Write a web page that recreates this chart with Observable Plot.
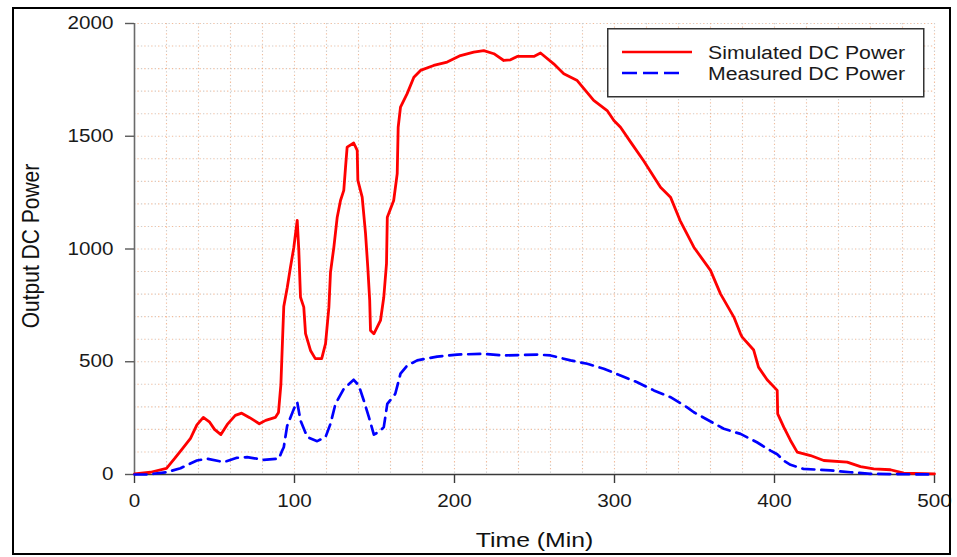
<!DOCTYPE html>
<html>
<head>
<meta charset="utf-8">
<script src="https://cdn.jsdelivr.net/npm/d3@7"></script>
<script src="https://cdn.jsdelivr.net/npm/@observablehq/plot@0.6"></script>
<style>
  html, body { margin: 0; padding: 0; background: #fff; }
  #wrap { position: relative; width: 957px; height: 557px; overflow: hidden; font-family: "Liberation Sans", Arial, sans-serif; }
  #wrap > svg.chart { position: absolute; left: 0; top: 0; }
  #border { position: absolute; left: 12px; top: 7px; width: 935px; height: 544px; border: 2px solid #000; pointer-events: none; }
  #legend { position: absolute; left: 607px; top: 28px; }
</style>
</head>
<body>
<div id="wrap"></div>
<script>
// ---- data ----
const seriesNames = ["Simulated DC Power", "Measured DC Power"];
const axisTitles = ["Time (Min)", "Output DC Power"];
const xTicks = [0, 100, 200, 300, 400, 500];
const yTicks = [0, 500, 1000, 1500, 2000];

const simTime = [0, 10, 20, 25, 30, 35, 39, 43, 47, 50, 54, 58, 63, 67, 72, 78, 82, 88, 90, 91.5, 92.5, 93.3, 95.5, 97.5, 99.6, 100.5, 101.7,
  102.7, 103.75, 105.8, 106.9, 110, 113, 117, 119.4, 121.5, 122.5, 124.6, 126.7, 128.75, 130.8, 131.9, 132.9, 137, 139.2, 139.6, 142.3,
  144.4, 145.8, 147, 147.5, 149.6, 153.75, 155.8, 157.5, 158, 162, 164.2, 164.8, 166.25, 170.4, 174.6, 178.75, 187, 195.4, 203.75, 212,
  218.3, 224.6, 230.8, 235, 239.2, 249.6, 253.75, 262, 268.3, 276.7, 287, 295.4, 299.6, 303.75, 310, 318.3, 328.75, 335, 341, 349.6,
  360, 366.25, 374.6, 378.75, 379.8, 387, 390, 395.4, 401.7, 402, 405.8, 410, 414.2, 422.5, 430.8, 445.4, 453.75, 462, 472.5, 480.8, 500];
const simPower = [3, 10, 27, 70, 115, 160, 220, 253, 232, 200, 177, 222, 262, 272, 252, 225, 240, 253, 275, 400, 594, 745, 830, 920, 1008, 1060, 1127,
  993, 786, 742, 625, 550, 514, 514, 580, 742, 897, 1008, 1141, 1215, 1260, 1363, 1452, 1470, 1437, 1304, 1230,
  1068, 920, 772, 639, 624, 683, 786, 935, 1141, 1215, 1334, 1540, 1629, 1689, 1762, 1792, 1814, 1829, 1858, 1873,
  1880, 1866, 1836, 1839, 1854, 1854, 1869, 1821, 1777, 1747, 1659, 1614, 1570, 1540, 1475, 1390, 1274, 1230, 1126, 1008,
  905, 801, 698, 624, 609, 552, 476, 420, 373, 269, 210, 151, 99, 84, 62, 55, 35, 25, 21, 6, 3];

const measTime = [0, 8, 20, 28.75, 39, 45.4, 55.8, 64, 70.4, 80.8, 90.2, 92.3, 93.3, 95.4, 99.6, 101.7, 103.75, 108, 114.2, 119.4, 122.5,
  125.6, 130.8, 137, 140.2, 143.3, 146.5, 149.6, 153, 155.8, 158, 163, 166.25, 170.4, 176.7, 189.2, 201.7, 218.3, 230.8, 251.7, 260,
  272.5, 283, 293.3, 303.75, 314.2, 324.6, 335, 345.4, 349.6, 368.3, 378.75, 389, 397.5, 401.7, 406, 410, 418, 435, 447.5, 460, 500];
const measPower = [0, 0, 10, 28, 62, 70, 55, 74, 77, 65, 70, 106, 121, 215, 291, 321, 239, 166, 148, 166, 225,
  313, 380, 420, 395, 328, 254, 177, 190, 210, 313, 358, 447, 483, 506, 523, 532, 535, 528, 532, 528,
  506, 491, 469, 439, 409, 373, 343, 298, 276, 203, 180, 143, 106, 90, 60, 43, 25, 18, 10, 3, 0];

// ---- build tables ----
const sim = simTime.map((t, i) => ({t, p: simPower[i]}));
const meas = measTime.map((t, i) => ({t, p: measPower[i]}));
const gridX = d3.range(20, 501, 20);
const gridY = d3.range(100, 2001, 100);

const dots = {strokeWidth: 1.1, strokeDasharray: "1.3,5.6"};

const chart = Plot.plot({
  width: 957,
  height: 557,
  marginLeft: 134,
  marginRight: 23,
  marginTop: 23,
  marginBottom: 83,
  style: {fontFamily: "'Liberation Sans', Arial, sans-serif", fontSize: "17.5px", color: "#1a1a1a", background: "transparent", overflow: "visible"},
  x: {domain: [0, 500]},
  y: {domain: [0, 2000]},
  marks: [
    Plot.ruleX(gridX, {...dots, stroke: "#c8c8c8", strokeOpacity: 0.9}),
    Plot.ruleX(gridX, {...dots, stroke: "#f0a578", strokeOpacity: 0.75, strokeDashoffset: -3.4}),
    Plot.ruleY(gridY, {...dots, stroke: "#c8c8c8", strokeOpacity: 0.9}),
    Plot.ruleY(gridY, {...dots, stroke: "#f0a578", strokeOpacity: 0.75, strokeDashoffset: -3.4}),
    Plot.ruleX([0], {stroke: "#6a6a6a", strokeWidth: 1.6}),
    Plot.ruleY([0], {stroke: "#3a3a3a", strokeWidth: 1.6}),
    Plot.axisX({ticks: xTicks, tickFormat: d3.format("d"), tickSize: 9, tickPadding: 11, label: null, stroke: "#3a3a3a", strokeWidth: 1.4}),
    Plot.axisY({ticks: yTicks, tickFormat: d3.format("d"), tickSize: 9, tickPadding: 12, label: null, stroke: "#5a5a5a", strokeWidth: 1.4}),
    Plot.line(sim, {x: "t", y: "p", stroke: "#ff0000", strokeWidth: 2.8}),
    Plot.line(meas, {x: "t", y: "p", stroke: "#0000ff", strokeWidth: 2.7, strokeDasharray: "12,7"}),
    Plot.text([axisTitles[0]], {frameAnchor: "bottom", dy: 66, fontSize: 21, textAnchor: "middle", lineAnchor: "middle", fill: "#111"}),
    Plot.text([axisTitles[1]], {frameAnchor: "left", dx: -103, dy: -3, rotate: -90, fontSize: 21, textAnchor: "middle", lineAnchor: "middle", fill: "#111", className: "ylab"})
  ]
});
chart.classList.add("chart");

const wrap = document.getElementById("wrap");
wrap.appendChild(chart);

// legend (SVG) built from series names
const lg = d3.select(wrap).append("svg").attr("id", "legend").attr("width", 320).attr("height", 72)
  .style("font-family", "'Liberation Sans', Arial, sans-serif");
lg.append("rect").attr("x", 0.75).attr("y", 0.75).attr("width", 316).attr("height", 68)
  .attr("fill", "#fff").attr("stroke", "#333").attr("stroke-width", 1.5);
const legendStyles = [
  {stroke: "#ff0000", dash: null, x2: 85},
  {stroke: "#0000ff", dash: "15,6", x2: 78}
];
seriesNames.forEach((name, i) => {
  const y = 24 + i * 21;
  lg.append("line").attr("x1", 15).attr("x2", legendStyles[i].x2).attr("y1", y).attr("y2", y)
    .attr("stroke", legendStyles[i].stroke).attr("stroke-width", 2.6)
    .attr("stroke-dasharray", legendStyles[i].dash);
  lg.append("text").attr("x", 101).attr("y", y + 7).attr("font-size", 18).attr("fill", "#1a1a1a").text(name);
});

// outer frame
const b = document.createElement("div");
b.id = "border";
wrap.appendChild(b);

// horizontal stretch of the reference's lettering
wrap.querySelectorAll("text").forEach(t => {
  if (t.closest(".ylab")) {
    const tr = t.getAttribute("transform") || "";
    t.setAttribute("transform", tr.replace(/rotate\(/, "scale(1.18,1) rotate("));
    return;
  }
  const L = t.getComputedTextLength();
  if (L > 0) {
    t.setAttribute("textLength", (L * 1.18).toFixed(1));
    t.setAttribute("lengthAdjust", "spacingAndGlyphs");
  }
});
</script>
</body>
</html>
